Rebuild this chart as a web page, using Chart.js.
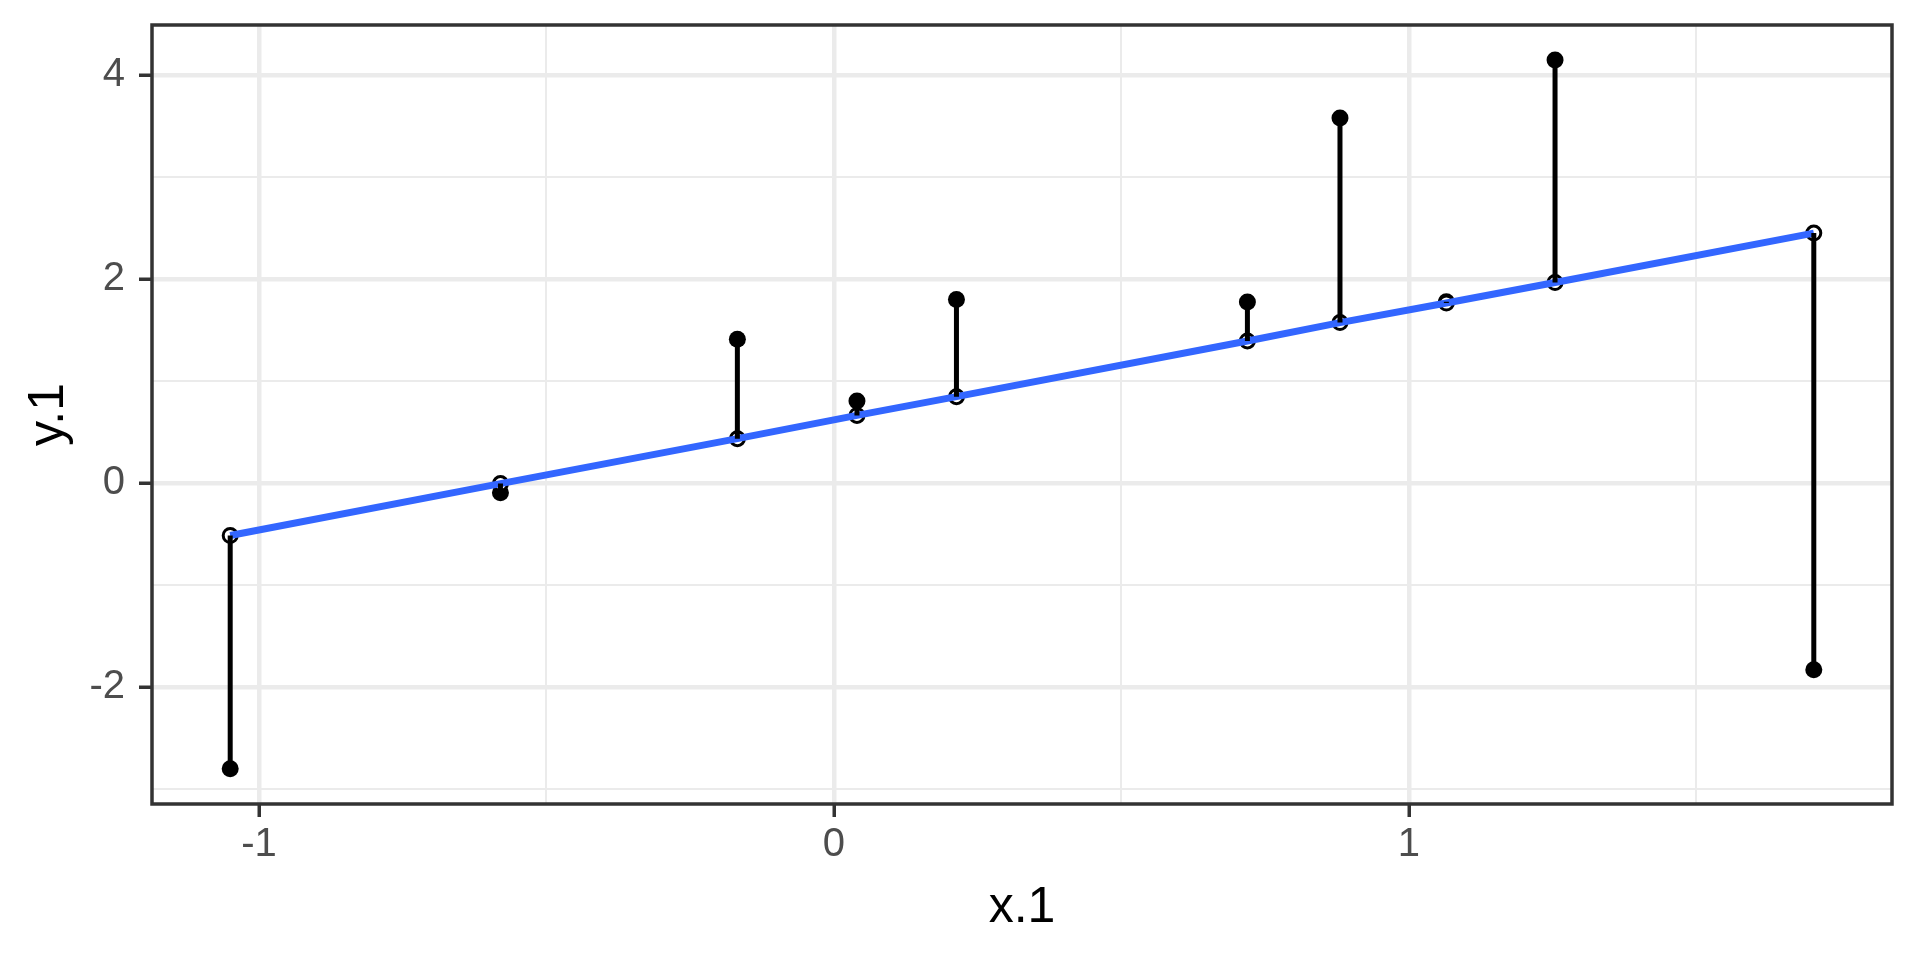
<!DOCTYPE html>
<html lang="en">
<head>
    <meta charset="UTF-8">
    <title>y.1 vs x.1</title>
    <script src="https://cdn.jsdelivr.net/npm/chart.js"></script>
    <style>
        html, body { margin: 0; padding: 0; background: #fff; }
        #wrap { width: 1920px; height: 960px; }
    </style>
</head>
<body>
    <div id="wrap"><canvas id="fitChart"></canvas></div>
    <script>
        // values
        const xVals = [-1.050, -0.580, -0.168, 0.040, 0.213, 0.719, 0.880, 1.065, 1.254, 1.704];
        const yObs  = [-2.800, -0.095, 1.410, 0.804, 1.800, 1.775, 3.578, 1.778, 4.147, -1.830];
        const yFit  = [-0.514, -0.005, 0.435, 0.663, 0.847, 1.393, 1.573, 1.765, 1.966, 2.450];
        const xLimits = [-1.186, 1.840];
        const yLimits = [-3.146, 4.490];

        const font = 'Liberation Sans, Arial, sans-serif';

        const obsPoints = xVals.map((x, i) => ({ x: x, y: yObs[i] }));
        const fitPoints = xVals.map((x, i) => ({ x: x, y: yFit[i] }));
        // vertical residual segments, broken by nulls
        const segPoints = [];
        xVals.forEach((x, i) => {
            segPoints.push({ x: x, y: yFit[i] }, { x: x, y: yObs[i] }, { x: x, y: null });
        });

        // panel border like theme_bw
        const framePlugin = {
            id: 'frame',
            afterDraw(chart) {
                const a = chart.chartArea, c = chart.ctx;
                c.save();
                c.strokeStyle = '#333333';
                c.lineWidth = 3.5;
                c.strokeRect(a.left, a.top, a.right - a.left, a.bottom - a.top);
                c.restore();
            }
        };

        const isMajorX = v => Math.abs(v - Math.round(v)) < 1e-6;
        const isMajorY = v => Math.abs(v / 2 - Math.round(v / 2)) < 1e-6;

        // first dataset is drawn on top
        new Chart(document.getElementById('fitChart'), {
            type: 'scatter',
            data: {
                datasets: [
                    {
                        data: segPoints,
                        showLine: true,
                        spanGaps: false,
                        pointRadius: 0,
                        borderColor: '#000000',
                        borderWidth: 5
                    },
                    {
                        data: fitPoints,
                        showLine: true,
                        pointRadius: 0,
                        borderColor: '#3366FF',
                        borderWidth: 7
                    },
                    {
                        data: fitPoints,
                        pointRadius: 7,
                        pointBackgroundColor: '#FFFFFF',
                        pointBorderColor: '#000000',
                        pointBorderWidth: 3
                    },
                    {
                        data: obsPoints,
                        pointRadius: 8.5,
                        pointBackgroundColor: '#000000',
                        pointBorderWidth: 0
                    }
                ]
            },
            options: {
                responsive: true,
                maintainAspectRatio: false,
                animation: false,
                layout: { padding: { left: 0, top: 25, right: 28, bottom: 0 } },
                plugins: { legend: { display: false }, tooltip: { enabled: false } },
                scales: {
                    x: {
                        type: 'linear',
                        min: xLimits[0],
                        max: xLimits[1],
                        afterFit: s => { s.height = 156; s.paddingLeft = 0; s.paddingRight = 0; },
                        border: { display: false },
                        grid: {
                            color: '#EBEBEB',
                            lineWidth: c => isMajorX(c.tick.value) ? 4.5 : 2,
                            tickColor: c => isMajorX(c.tick.value) ? '#333333' : 'rgba(0,0,0,0)',
                            tickWidth: 3.5,
                            tickLength: 13
                        },
                        ticks: {
                            stepSize: 0.5,
                            includeBounds: false,
                            autoSkip: false,
                            maxRotation: 0,
                            padding: 4,
                            color: '#4D4D4D',
                            font: { family: font, size: 40 },
                            callback: v => isMajorX(v) ? String(Math.round(v)) : ''
                        },
                        title: {
                            display: true,
                            text: 'x.1',
                            color: '#000000',
                            font: { family: font, size: 50 },
                            padding: { top: 0, bottom: 22 }
                        }
                    },
                    y: {
                        type: 'linear',
                        min: yLimits[0],
                        max: yLimits[1],
                        afterFit: s => { s.width = 152; s.paddingTop = 0; s.paddingBottom = 0; },
                        border: { display: false },
                        grid: {
                            color: '#EBEBEB',
                            lineWidth: c => isMajorY(c.tick.value) ? 4.5 : 2,
                            tickColor: c => isMajorY(c.tick.value) ? '#333333' : 'rgba(0,0,0,0)',
                            tickWidth: 3.5,
                            tickLength: 13
                        },
                        ticks: {
                            stepSize: 1,
                            includeBounds: false,
                            autoSkip: false,
                            padding: 14,
                            color: '#4D4D4D',
                            font: { family: font, size: 40 },
                            callback: v => isMajorY(v) ? String(Math.round(v)) : ''
                        },
                        title: {
                            display: true,
                            text: 'y.1',
                            color: '#000000',
                            font: { family: font, size: 50 },
                            padding: { top: 19, bottom: 0 }
                        }
                    }
                }
            },
            plugins: [framePlugin]
        });
    </script>
</body>
</html>
